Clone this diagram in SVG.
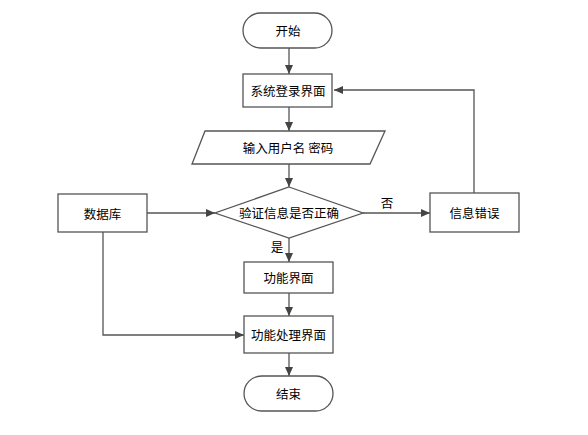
<svg xmlns="http://www.w3.org/2000/svg" width="588" height="435" viewBox="0 0 588 435">
<defs>
<marker id="arr" markerWidth="10" markerHeight="10" refX="9" refY="5" orient="auto" markerUnits="userSpaceOnUse">
<path d="M0,1 L9,5 L0,9 Z" fill="#444"/>
</marker>
<style>
.n{fill:#fff;stroke:#555;stroke-width:1.3}
.t{font-family:"Noto Sans CJK SC","Microsoft YaHei",sans-serif;font-size:12.5px;fill:#000;text-anchor:middle;dominant-baseline:central}
.c{fill:none;stroke:#555;stroke-width:1.3;marker-end:url(#arr)}
</style>
</defs>
<rect width="588" height="435" fill="#fff"/>
<g id="connectors">
<path class="c" d="M289,48 V74"/>
<path class="c" d="M289,107 V131"/>
<path class="c" d="M289,164 V187"/>
<path class="c" d="M289,238 V262"/>
<path class="c" d="M363,213 H430"/>
<path class="c" d="M474,193 V90 H334"/>
<path class="c" d="M147,213 H215"/>
<path class="c" d="M103,232 V335 H244"/>
<path class="c" d="M289,293 V316"/>
<path class="c" d="M289,353 V376"/>
<text class="t" x="277" y="246">是</text>
<text class="t" x="387" y="202">否</text>
</g>
<g id="start">
<rect class="n" x="243" y="13" width="89" height="35" rx="17.5"/>
<text class="t" x="288" y="30.5">开始</text>
</g>
<g id="login">
<rect class="n" x="243" y="74" width="89" height="33"/>
<text class="t" x="288" y="90.5">系统登录界面</text>
</g>
<g id="input">
<polygon class="n" points="205,131 385,131 370,164 192,164"/>
<text class="t" x="288" y="147.5">输入用户名 密码</text>
</g>
<g id="verify">
<polygon class="n" points="289,187 363,213 289,238 215,213"/>
<text class="t" x="289" y="212.5">验证信息是否正确</text>
</g>
<g id="db">
<rect class="n" x="58" y="194" width="89" height="38"/>
<text class="t" x="102.5" y="213">数据库</text>
</g>
<g id="error">
<rect class="n" x="430" y="193" width="89" height="39"/>
<text class="t" x="474.5" y="212.5">信息错误</text>
</g>
<g id="func">
<rect class="n" x="244" y="262" width="89" height="31"/>
<text class="t" x="288.5" y="277.5">功能界面</text>
</g>
<g id="proc">
<rect class="n" x="244" y="316" width="89" height="37"/>
<text class="t" x="288.5" y="334.5">功能处理界面</text>
</g>
<g id="end">
<rect class="n" x="244" y="376" width="89" height="35" rx="17.5"/>
<text class="t" x="288.5" y="393.5">结束</text>
</g>
</svg>
